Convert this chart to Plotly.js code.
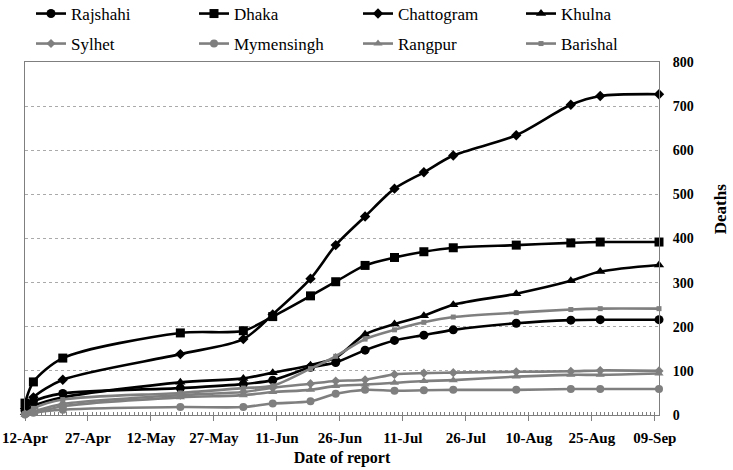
<!DOCTYPE html>
<html>
<head>
<meta charset="utf-8">
<script src="https://cdn.plot.ly/plotly-3.0.1.min.js"></script>
<style>html,body{margin:0;padding:0;background:#fff;}#chart{width:733px;height:470px;}</style>
</head>
<body>
<div id="chart"></div>
<script>
const dates = ['2020-04-12','2020-04-14','2020-04-21','2020-05-19','2020-06-03','2020-06-10','2020-06-19','2020-06-25','2020-07-02','2020-07-09','2020-07-16','2020-07-23','2020-08-07','2020-08-20','2020-08-27','2020-09-10'];
const names = ['Rajshahi','Dhaka','Chattogram','Khulna','Sylhet','Mymensingh','Rangpur','Barishal'];
const rajshahi   = [10, 30, 49, 61, 70, 79, 108, 119, 147, 169, 181, 193, 208, 215, 216, 216];
const dhaka      = [27, 75, 129, 186, 191, 223, 270, 302, 339, 357, 370, 379, 385, 390, 392, 392];
const chattogram = [15, 40, 80, 138, 172, 228, 309, 385, 450, 513, 550, 588, 634, 703, 723, 727];
const khulna     = [5, 20, 40, 74, 83, 96, 113, 130, 183, 206, 225, 250, 275, 304, 325, 340];
const sylhet     = [2, 8, 25, 45, 52, 62, 71, 77, 80, 92, 95, 96, 98, 99, 101, 100];
const mymensingh = [1, 5, 12, 18, 18, 26, 31, 48, 57, 55, 56, 57, 57, 59, 59, 59];
const rangpur    = [0, 4, 20, 40, 45, 52, 57, 66, 69, 73, 77, 79, 87, 91, 91, 94];
const barishal   = [3, 15, 35, 50, 61, 66, 105, 133, 172, 193, 210, 222, 232, 239, 241, 241];
const tickDates = ['2020-04-12','2020-04-27','2020-05-12','2020-05-27','2020-06-11','2020-06-26','2020-07-11','2020-07-26','2020-08-10','2020-08-25','2020-09-09'];
const xTitle = 'Date of report';
const yTitle = 'Deaths';

const FONT = 'Liberation Serif, Times New Roman, serif';
const BLACK = '#000000', GREY = '#7f7f7f';

function tr(name, y, color, symbol, size, legend) {
  return {
    type: 'scatter', mode: 'lines+markers', name: name,
    x: dates, y: y,
    line: {color: color, width: 2.6, shape: 'spline', smoothing: 0.8},
    marker: {color: color, symbol: symbol, size: size},
    cliponaxis: false, legend: legend
  };
}
const data = [
  tr(names[0], rajshahi, BLACK, 'circle', 9, 'legend'),
  tr(names[1], dhaka, BLACK, 'square', 9, 'legend2'),
  tr(names[2], chattogram, BLACK, 'diamond', 8, 'legend3'),
  tr(names[3], khulna, BLACK, 'triangle-up', 9, 'legend4'),
  tr(names[4], sylhet, GREY, 'diamond', 7, 'legend5'),
  tr(names[5], mymensingh, GREY, 'circle', 8, 'legend6'),
  tr(names[6], rangpur, GREY, 'triangle-up', 8, 'legend7'),
  tr(names[7], barishal, GREY, 'square', 5, 'legend8')
];

function leg(xpx, ypx) {
  return {
    orientation: 'h', xref: 'container', yref: 'container',
    x: xpx / 733, y: 1 - ypx / 470, xanchor: 'left', yanchor: 'middle',
    itemwidth: 30,
    font: {family: FONT, size: 17, color: '#000000'},
    bgcolor: 'rgba(0,0,0,0)', borderwidth: 0
  };
}
const colX = [31, 194, 358, 521];
const rowY = [14, 44];

const layout = {
  width: 733, height: 470,
  margin: {l: 25, r: 74, t: 53, b: 55},
  paper_bgcolor: '#fff', plot_bgcolor: '#fff',
  font: {family: FONT, size: 17, color: '#000'},
  showlegend: true,
  legend: leg(colX[0], rowY[0]),
  legend2: leg(colX[1], rowY[0]),
  legend3: leg(colX[2], rowY[0]),
  legend4: leg(colX[3], rowY[0]),
  legend5: leg(colX[0], rowY[1]),
  legend6: leg(colX[1], rowY[1]),
  legend7: leg(colX[2], rowY[1]),
  legend8: leg(colX[3], rowY[1]),
  xaxis: {
    type: 'date', range: ['2020-04-12', '2020-09-10'],
    tickmode: 'array', tickvals: tickDates,
    tickformat: '%d-%b',
    ticks: 'outside', ticklen: 5, tickcolor: GREY, tickwidth: 1,
    minor: {dtick: 86400000, tick0: '2020-04-12', ticks: 'inside', ticklen: 3, tickcolor: GREY, showgrid: false},
    showline: true, linecolor: GREY, linewidth: 1, mirror: true,
    showgrid: false, zeroline: false,
    tickfont: {family: FONT, size: 15, weight: 'bold', color: '#000'},
    ticklabelstandoff: 4,
    title: {text: xTitle, font: {family: FONT, size: 16, weight: 'bold', color: '#000'}, standoff: 6}
  },
  yaxis: {
    side: 'right', range: [0, 800], tickmode: 'linear', tick0: 0, dtick: 100,
    showgrid: true, gridcolor: '#aaaaaa', griddash: 'dot', gridwidth: 1,
    showline: true, linecolor: GREY, linewidth: 1, mirror: true,
    zeroline: false, ticks: '',
    ticklabelstandoff: 10,
    tickfont: {family: FONT, size: 14, weight: 'bold', color: '#000'}
  },
  annotations: [{
    text: yTitle, xref: 'paper', yref: 'paper', x: (720 - 25) / 634, y: (415 - 204) / 362,
    xanchor: 'center', yanchor: 'middle', textangle: -90, showarrow: false,
    font: {family: FONT, size: 17, weight: 'bold', color: '#000'}
  }]
};

Plotly.newPlot('chart', data, layout, {displayModeBar: false, staticPlot: true});
</script>
</body>
</html>
